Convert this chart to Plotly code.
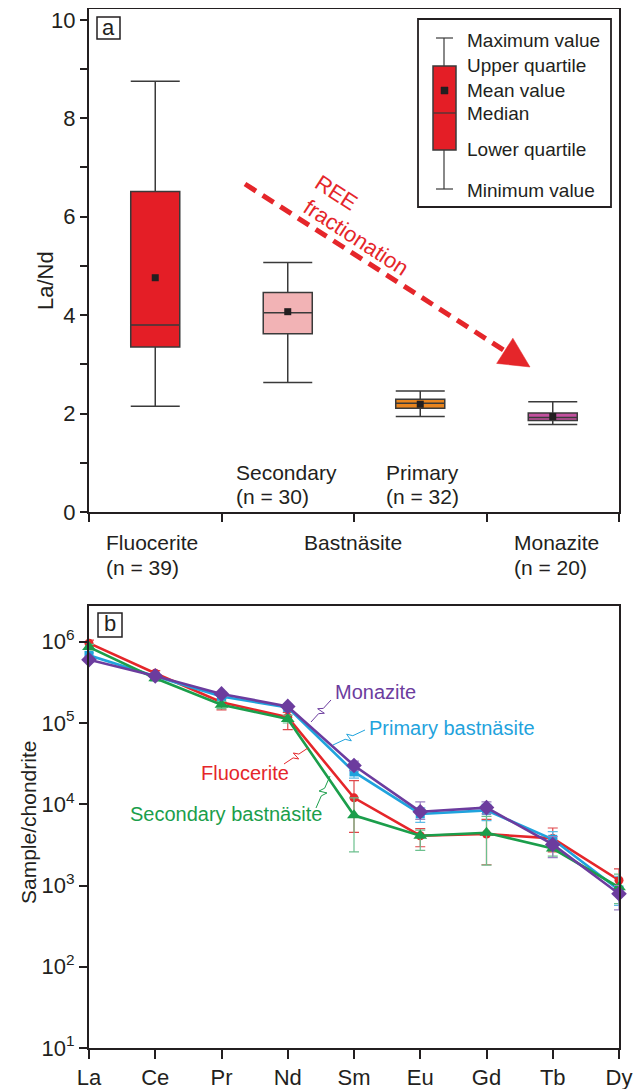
import plotly.graph_objects as go

# ---------------- Panel a: La/Nd box statistics ----------------
groups = ["Fluocerite", "Secondary bastnäsite", "Primary bastnäsite", "Monazite"]
group_pos = [0.5, 1.5, 2.5, 3.5]
la_nd_max = [8.75, 5.07, 2.46, 2.24]
la_nd_q3 = [6.51, 4.46, 2.29, 2.01]
la_nd_median = [3.80, 4.05, 2.21, 1.92]
la_nd_mean = [4.76, 4.07, 2.19, 1.94]
la_nd_q1 = [3.35, 3.62, 2.11, 1.86]
la_nd_min = [2.15, 2.63, 1.94, 1.78]
box_fill = ["#E41E26", "#F2B3B5", "#E8841E", "#C2509E"]
ya_ticks = [0, 2, 4, 6, 8, 10]

# ---------------- Panel b: chondrite-normalised REE ----------------
ree = ["La", "Ce", "Pr", "Nd", "Sm", "Eu", "Gd", "Tb", "Dy"]
fluocerite = [9.6e5, 4.1e5, 1.8e5, 1.18e5, 1.2e4, 4.1e3, 4.3e3, 3.8e3, 1.16e3]
fluocerite_hi = [1.05e6, 4.4e5, 2.0e5, 1.35e5, 1.95e4, 5.0e3, 6.5e3, 5.1e3, 1.6e3]
fluocerite_lo = [8.8e5, 3.8e5, 1.45e5, 8.3e4, 4.5e3, 3.0e3, 1.8e3, 2.6e3, 800]
secondary = [8.6e5, 3.55e5, 1.68e5, 1.12e5, 7.3e3, 4.1e3, 4.45e3, 2.85e3, 950]
secondary_hi = [9.3e5, 3.8e5, 1.85e5, 1.25e5, 1.2e4, 4.8e3, 7.1e3, 3.4e3, 1.38e3]
secondary_lo = [7.9e5, 3.3e5, 1.5e5, 1.0e5, 2.6e3, 2.7e3, 1.78e3, 2.3e3, 600]
primary = [6.8e5, 3.75e5, 2.12e5, 1.55e5, 2.5e4, 7.6e3, 8.4e3, 3.7e3, 880]
primary_hi = [7.3e5, 3.95e5, 2.25e5, 1.65e5, 2.9e4, 9.0e3, 1.0e4, 4.6e3, 1.3e3]
primary_lo = [6.3e5, 3.55e5, 2.0e5, 1.45e5, 2.1e4, 6.0e3, 6.3e3, 2.8e3, 570]
monazite = [6.0e5, 3.8e5, 2.28e5, 1.6e5, 3.0e4, 8.1e3, 9.1e3, 3.2e3, 790]
monazite_hi = [6.3e5, 4.0e5, 2.4e5, 1.68e5, 3.4e4, 1.07e4, 1.07e4, 4.0e3, 1.0e3]
monazite_lo = [5.7e5, 3.6e5, 2.15e5, 1.52e5, 2.6e4, 6.5e3, 7.6e3, 2.2e3, 500]
yb_ticks = [10, 100, 1000, 1e4, 1e5, 1e6]
yb_ticktext = ["10<sup>1</sup>", "10<sup>2</sup>", "10<sup>3</sup>", "10<sup>4</sup>",
               "10<sup>5</sup>", "10<sup>6</sup>"]

# ---------------- layout geometry ----------------
# the page body has an 8 px margin, so the figure starts at page (8, 8)
OFF = 8
W, H = 644 - OFF, 1089 - OFF
ML, MR, MT, MB = 89 - OFF, 25, 9 - OFF, 41
PW = W - ML - MR
PH = H - MT - MB


def PX(x):  # page pixel -> paper fraction
    return (x - OFF - ML) / PW


def PY(y):
    return (H - MB - (y - OFF)) / PH


FONT = "Arial, Liberation Sans, sans-serif"
INK = "#231F20"
RED = "#E5262A"
GREEN = "#1B9E4B"
BLUE = "#1FA3DD"
PURPLE = "#6C3C9E"

fig = go.Figure()

# ---- boxes
for i in range(len(groups)):
    fig.add_trace(go.Box(
        x=[group_pos[i]], q1=[la_nd_q1[i]], median=[la_nd_median[i]], q3=[la_nd_q3[i]],
        lowerfence=[la_nd_min[i]], upperfence=[la_nd_max[i]],
        width=0.37, whiskerwidth=1, fillcolor=box_fill[i],
        line=dict(color="#3A3A3A", width=1.5), boxpoints=False,
        xaxis="x", yaxis="y", name=groups[i], hoverinfo="skip"))
fig.add_trace(go.Scatter(
    x=group_pos, y=la_nd_mean, mode="markers",
    marker=dict(symbol="square", size=7, color=INK),
    xaxis="x", yaxis="y", hoverinfo="skip"))

# ---- REE patterns
series = [
    ("Fluocerite", fluocerite, fluocerite_hi, fluocerite_lo, RED, "#E0474A", "circle", 9),
    ("Primary bastnäsite", primary, primary_hi, primary_lo, BLUE, "#5DBBE6", "square", 9),
    ("Secondary bastnäsite", secondary, secondary_hi, secondary_lo, GREEN, "#6CC08E", "triangle-up", 12),
    ("Monazite", monazite, monazite_hi, monazite_lo, PURPLE, "#9A80C2", "diamond", 12),
]
for name, vals, hi, lo, col, ecol, sym, msz in series:
    fig.add_trace(go.Scatter(
        x=ree, y=vals, mode="lines+markers", name=name,
        line=dict(color=col, width=2.6),
        marker=dict(symbol=sym, size=msz, color=col),
        error_y=dict(type="data", symmetric=False,
                     array=[h - v for h, v in zip(hi, vals)],
                     arrayminus=[v - l for v, l in zip(vals, lo)],
                     color=ecol, thickness=1.2, width=5),
        cliponaxis=False, xaxis="x2", yaxis="y2", hoverinfo="skip"))

axis_common = dict(showline=True, linecolor=INK, linewidth=2, mirror=True,
                   ticks="outside", tickcolor=INK, tickwidth=1.8,
                   showgrid=False, zeroline=False, automargin=False,
                   ticklabeloverflow="allow",
                   tickfont=dict(family=FONT, size=22, color=INK))

fig.update_layout(
    width=W, height=H, margin=dict(l=ML, r=MR, t=MT, b=MB, autoexpand=False),
    paper_bgcolor="white", plot_bgcolor="white", showlegend=False,
    xaxis=dict(axis_common, domain=[0, 1], anchor="y", type="linear", range=[0, 4],
               tickvals=[0, 1, 2, 3, 4], showticklabels=False, ticklen=8),
    yaxis=dict(axis_common, domain=[PY(512), PY(9)], anchor="x", range=[0, 10.22],
               tickvals=ya_ticks, ticklen=7,
               minor=dict(tickvals=[1, 3, 5, 7, 9], ticks="outside", ticklen=7,
                          tickcolor=INK, tickwidth=1.8, showgrid=False)),
    xaxis2=dict(axis_common, domain=[0, 1], anchor="y2", type="category",
                categoryorder="array", categoryarray=ree, range=[0, 8], ticklen=9),
    yaxis2=dict(axis_common, domain=[0, PY(606)], anchor="x2", type="log",
                range=[1, 6.44], tickvals=yb_ticks, ticktext=yb_ticktext, ticklen=8),
)

shapes = []
annotations = []


def text(x, y, s, size, color=INK, xanchor="left", angle=0):
    annotations.append(dict(xref="paper", yref="paper", x=PX(x), y=PY(y), text=s,
                            showarrow=False, xanchor=xanchor, yanchor="middle",
                            textangle=angle,
                            font=dict(family=FONT, size=size, color=color)))


def line(x0, y0, x1, y1, color=INK, width=1.2, dash=None):
    d = dict(type="line", xref="paper", yref="paper", x0=PX(x0), y0=PY(y0),
             x1=PX(x1), y1=PY(y1), line=dict(color=color, width=width))
    if dash:
        d["line"]["dash"] = dash
    shapes.append(d)


def rect(x0, y0, x1, y1, fill="white", color=INK, width=1.5):
    shapes.append(dict(type="rect", xref="paper", yref="paper", x0=PX(x0), y0=PY(y0),
                       x1=PX(x1), y1=PY(y1), fillcolor=fill,
                       line=dict(color=color, width=width)))


def path(points, color, width=1.0, fill=None, close=False):
    s = "M " + " L ".join(f"{PX(x):.5f},{PY(y):.5f}" for x, y in points)
    if close:
        s += " Z"
    d = dict(type="path", xref="paper", yref="paper", path=s,
             line=dict(color=color, width=width))
    if fill:
        d["fillcolor"] = fill
    shapes.append(d)


def squiggle(p0, p1, color):
    dx, dy = p1[0] - p0[0], p1[1] - p0[1]
    L = (dx * dx + dy * dy) ** 0.5
    nx, ny = -dy / L, dx / L
    pt = lambda t, o=0: (p0[0] + t * dx + o * nx, p0[1] + t * dy + o * ny)
    path([p0, pt(0.38), pt(0.52, 4), pt(0.48, -4), pt(0.62), p1], color, 1.0)


# panel letters
rect(97, 17, 120, 39, width=1.5)
text(108.5, 27, "a", 22, xanchor="center")
rect(98, 613, 122, 637, width=1.5)
text(110, 624, "b", 22, xanchor="center")

# axis titles
text(45, 281, "La/Nd", 22, xanchor="center", angle=-90)
text(28, 823, "Sample/chondrite", 21, xanchor="center", angle=-90)

# category labels (panel a)
text(104, 542, "Fluocerite", 21)
text(104, 567, "(n = 39)", 21)
text(302, 542, "Bastnäsite", 21)
text(512, 542, "Monazite", 21)
text(512, 567, "(n = 20)", 21)
text(234, 472, "Secondary", 21)
text(234, 497, "(n = 30)", 21)
text(384, 472, "Primary", 21)
text(384, 497, "(n = 32)", 21)

# legend key (panel a)
rect(418, 19, 611, 207, width=1.8)
line(444, 38, 444, 66, color="#3A3A3A")
line(444, 150, 444, 189, color="#3A3A3A")
line(436, 38, 453, 38, color="#3A3A3A")
line(436, 189, 453, 189, color="#3A3A3A")
rect(433, 66, 456, 150, fill="#E41E26", color="#3A3A3A", width=1.5)
line(433, 113, 456, 113, color="#3A3A3A")
rect(441, 87, 448, 94, fill=INK, color=INK, width=0.5)
for lab, yy in [("Maximum value", 40), ("Upper quartile", 65), ("Mean value", 90),
                ("Median", 114), ("Lower quartile", 150), ("Minimum value", 190)]:
    text(465, yy, lab, 19)

# REE fractionation arrow
sx, sy, tx, ty = 245, 184, 530, 367
dl = ((tx - sx) ** 2 + (ty - sy) ** 2) ** 0.5
ux, uy = (tx - sx) / dl, (ty - sy) / dl
bx, by = tx - 30 * ux, ty - 30 * uy
line(sx, sy, bx, by, color=RED, width=5, dash="13px,8px")
path([(tx, ty), (bx - 15 * uy, by + 15 * ux), (bx + 15 * uy, by - 15 * ux)], RED, 0.5,
     fill=RED, close=True)
text(336, 192, "REE", 22, color=RED, xanchor="center", angle=33)
text(356, 238, "fractionation", 22, color=RED, xanchor="center", angle=33)

# series labels (panel b)
text(333, 692, "Monazite", 20, color=PURPLE)
squiggle((331, 700), (311, 722), PURPLE)
text(367, 728, "Primary bastnäsite", 20, color=BLUE)
squiggle((365, 730), (333, 745), BLUE)
text(199, 773, "Fluocerite", 20, color=RED)
squiggle((284, 764), (308, 748), RED)
text(128, 814, "Secondary bastnäsite", 20, color=GREEN)
squiggle((316, 808), (330, 776), GREEN)

fig.update_layout(shapes=shapes, annotations=annotations)
fig.write_html("out.html")
